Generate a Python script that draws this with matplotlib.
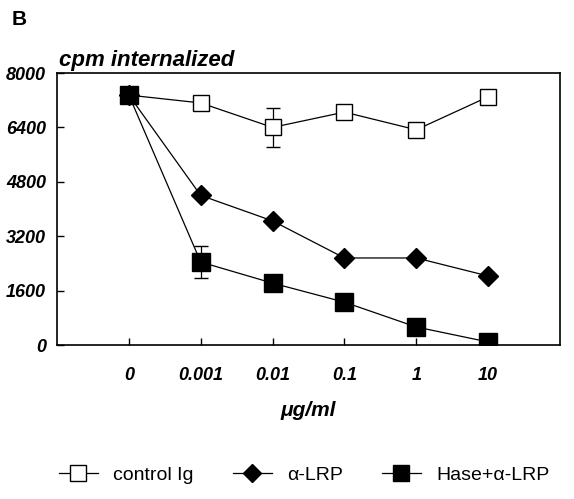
import matplotlib.pyplot as plt
from matplotlib.lines import Line2D
import numpy as np

doses = ["0", "0.001", "0.01", "0.1", "1", "10"]
control_ig = [7350, 7120, 6400, 6850, 6330, 7300]
control_err = [0, 0, 570, 0, 0, 0]
alpha_lrp = [7350, 4400, 3650, 2560, 2560, 2030]
hase_alpha_lrp = [7350, 2440, 1820, 1260, 530, 90]
hase_err = [0, 480, 0, 0, 0, 0]
yticks = [0, 1600, 3200, 4800, 6400, 8000]
labels = ["control Ig", "α-LRP", "Hase+α-LRP"]

plt.rcParams['font.family'] = ['Liberation Sans', 'DejaVu Sans']

fig = plt.figure(figsize=(5.74, 4.99), dpi=100)
ax = fig.add_axes([0.0993, 0.3086, 0.8763, 0.5451])

x = np.arange(len(doses))

ax.errorbar(x, control_ig, yerr=control_err, color="black", lw=0.9,
            marker="s", ms=12, mfc="white", mec="black", mew=1.0,
            capsize=5, elinewidth=0.9, zorder=3)
ax.plot(x, alpha_lrp, color="black", lw=0.9, marker="D", ms=10,
        mfc="black", mec="black", zorder=4)
ax.errorbar(x, hase_alpha_lrp, yerr=hase_err, color="black", lw=0.9,
            marker="s", ms=13, mfc="black", mec="black",
            capsize=5, elinewidth=0.9, zorder=5)

ax.set_xlim(-1, 6)
ax.set_ylim(0, 8000)
ax.set_xticks(x)
ax.set_xticklabels(doses, fontsize=13, fontweight="bold", fontstyle="italic")
ax.set_yticks(yticks)
ax.set_yticklabels([str(v) for v in yticks], fontsize=13,
                   fontweight="bold", fontstyle="italic")
ax.tick_params(direction="in", length=5, width=1)
ax.tick_params(axis="x", pad=16)
ax.tick_params(axis="y", pad=8)
for sp in ax.spines.values():
    sp.set_linewidth(1.2)

ax.set_xlabel("μg/ml", fontsize=15, fontweight="bold", fontstyle="italic",
              labelpad=12)
fig.text(0.103, 0.858, "cpm internalized", fontsize=16, fontweight="bold",
         fontstyle="italic", ha="left", va="bottom")
fig.text(0.02, 0.96, "B", fontsize=15, fontweight="bold", ha="left", va="center")

handles = [
    Line2D([], [], color="black", lw=0.9, marker="s", ms=11, mfc="white", mec="black"),
    Line2D([], [], color="black", lw=0.9, marker="D", ms=9, mfc="black", mec="black"),
    Line2D([], [], color="black", lw=0.9, marker="s", ms=12, mfc="black", mec="black"),
]
fig.legend(handles, labels, loc="lower center", bbox_to_anchor=(0.53, -0.005), ncol=3,
           frameon=False, fontsize=14, handlelength=2.0, handletextpad=0.8,
           columnspacing=2.0)

fig.savefig("out.png", dpi=100)
